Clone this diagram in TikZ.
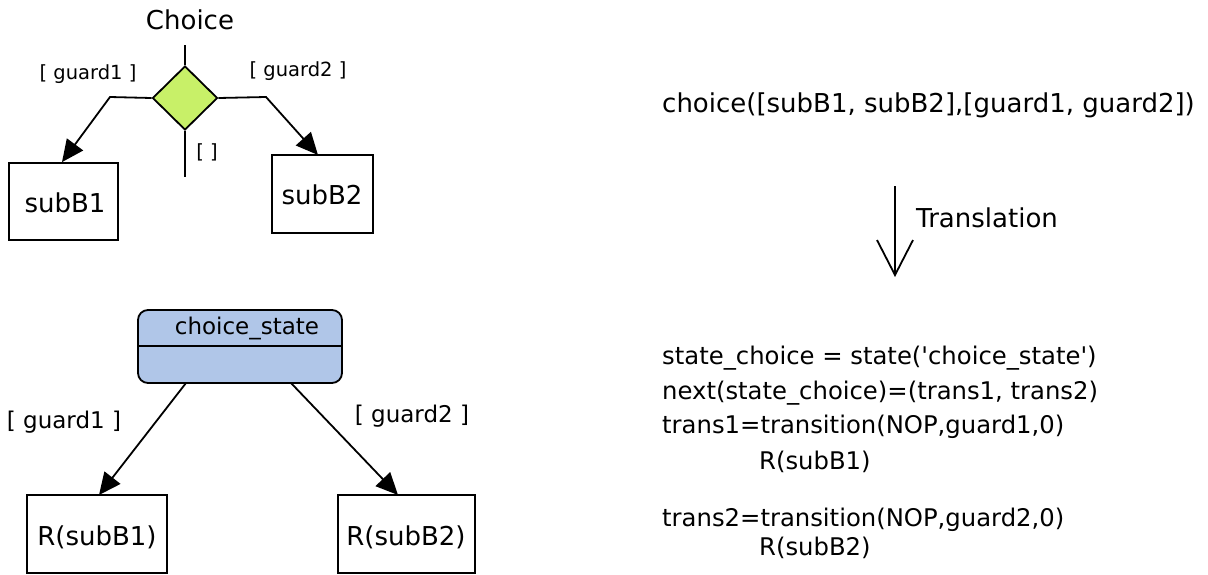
\documentclass[tikz,border=0pt]{standalone}
\usepackage{fontspec}
\setmainfont{DejaVu Sans}
\usetikzlibrary{arrows.meta,shapes.geometric}
\definecolor{dgreen}{RGB}{200,240,104}
\definecolor{sblue}{RGB}{176,198,232}
\newcommand{\sq}{\XeTeXglyph\XeTeXglyphindex "quotesingle"\relax}
\tikzset{
  lbl/.style={inner sep=0pt,font=\fontsize{26}{30}\selectfont},
  small/.style={inner sep=0pt,font=\fontsize{19.5}{23}\selectfont},
  mid/.style={inner sep=0pt,font=\fontsize{23}{27}\selectfont},
  box/.style={draw,line width=1.8pt,inner sep=0pt},
  ln/.style={line width=1.8pt},
  arr/.style={line width=1.8pt,-{Triangle[length=22pt,width=20pt]}},
  code/.style={inner sep=0pt,anchor=west,font=\fontsize{24.3}{28}\selectfont},
}
\begin{document}
\begin{tikzpicture}[x=1pt,y=-1pt]
\useasboundingbox (0,0) rectangle (1208,574);
% ---------- top left ----------
\node[lbl] (ttl) at (190,20) {Choice};
\node[draw,line width=1.8pt,fill=dgreen,diamond,minimum width=65pt,minimum height=64pt,inner sep=0pt] (dia) at (185,98) {};
\coordinate (dtop) at (185,45);
\coordinate (dbot) at (185,177);
\draw[ln] (dtop) -- (dia.north);
\draw[ln] (dia.south) -- (dbot);
\node[small] (empty) at (207,152) {[ ]};
\node[box,minimum width=109pt,minimum height=77pt] (sb1) at (63.5,201.5) {};
\node[lbl] (sb1t) at (65,203) {subB1};
\node[box,minimum width=101pt,minimum height=78pt] (sb2) at (322.5,194) {};
\node[lbl] (sb2t) at (322,195) {subB2};
\coordinate (lk) at (110,97);
\coordinate (rk) at (266,97);
\draw[arr] (dia.west) -- (lk) -- (sb1.north -| 62,0);
\draw[arr] (dia.east) -- (rk) -- (318,155);
\node[small] (g1) at (88,74) {[ guard1 ]};
\node[small] (g2) at (298,71) {[ guard2 ]};
% ---------- bottom left ----------
\node[draw,line width=1.8pt,fill=sblue,rounded corners=10pt,minimum width=204pt,minimum height=73pt,inner sep=0pt] (cs) at (240,346.5) {};
\draw[ln] (cs.west |- 0,346) -- (cs.east |- 0,346);
\node[mid] (cst) at (247,328) {choice\_state};
\node[box,minimum width=140pt,minimum height=78pt] (r1) at (97,534) {};
\node[lbl] (r1t) at (97,537) {R(subB1)};
\node[box,minimum width=137pt,minimum height=78pt] (r2) at (406.5,534) {};
\node[lbl] (r2t) at (406,537) {R(subB2)};
\draw[arr] (186,383) -- (99,495);
\draw[arr] (291,383) -- (398,495);
\node[mid] (g3) at (64,422) {[ guard1 ]};
\node[mid] (g4) at (412,416) {[ guard2 ]};
% ---------- right ----------
\node[lbl,anchor=west] (c0) at (662,105) {choice([subB1, subB2],[guard1, guard2])};
\coordinate (ta) at (895,186);
\coordinate (tb) at (895,277);
\draw[line width=1.8pt,-{Straight Barb[length=35pt,width=36pt,line width=1.8pt]}] (ta) -- (tb);
\node[lbl,anchor=west] (tr) at (916,218) {Translation};
\node[code] (c1) at (662,358) {state\_choice = state(\sq choice\_state\sq)};
\node[code] (c2) at (662,393) {next(state\_choice)=(trans1, trans2)};
\node[code] (c3) at (662,427) {trans1=transition(NOP,guard1,0)};
\node[code] (c4) at (759,462) {R(subB1)};
\node[code] (c5) at (662,520) {trans2=transition(NOP,guard2,0)};
\node[code] (c6) at (759,548) {R(subB2)};
\end{tikzpicture}
\end{document}
